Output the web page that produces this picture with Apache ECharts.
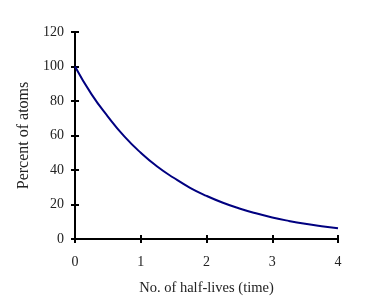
<!DOCTYPE html>
<html><head><meta charset="utf-8">
<script src="https://cdn.jsdelivr.net/npm/echarts@6/dist/echarts.min.js"></script>
<style>html,body{margin:0;padding:0;background:#fff}#c{width:381px;height:303px}</style>
</head><body><div id="c"></div>
<script>
const halfLives = [0,0.25,0.5,0.75,1,1.25,1.5,1.75,2,2.25,2.5,2.75,3,3.25,3.5,3.75,4];
const percentAtoms = [100,84,71,59.5,50,42,35.5,29.7,25,21,17.7,14.9,12.5,10.5,8.8,7.4,6.2];
const xTitle = 'No. of half-lives (time)';
const yTitle = 'Percent of atoms';

const font = '"Liberation Serif","Times New Roman",serif';
const chart = echarts.init(document.getElementById('c'), null, {renderer:'canvas'});
const axisLine = {show:true, onZero:false, lineStyle:{color:'#000', width:2}};
const lbl = {color:'#222', fontFamily:font, fontSize:14};
const baseX = {type:'value', min:0, max:4, interval:1, axisLine, splitLine:{show:false}};
const baseY = {type:'value', min:0, max:120, interval:20, axisLine, splitLine:{show:false}};
chart.setOption({
  animation:false,
  grid:{left:75, right:43, top:32, bottom:64, containLabel:false},
  xAxis:[
    Object.assign({}, baseX, {position:'bottom', axisTick:{show:true, inside:false, length:4, lineStyle:{color:'#000', width:2}},
      axisLabel:Object.assign({}, lbl, {margin:16}),
      name:xTitle, nameLocation:'middle', nameGap:42, nameTextStyle:{color:'#222', fontFamily:font, fontSize:14.5}}),
    Object.assign({}, baseX, {position:'bottom', axisTick:{show:true, inside:true, length:4, lineStyle:{color:'#000', width:2}}, axisLabel:{show:false}})
  ],
  yAxis:[
    Object.assign({}, baseY, {position:'left', axisTick:{show:true, inside:false, length:4, lineStyle:{color:'#000', width:2}},
      axisLabel:Object.assign({}, lbl, {margin:11}),
      name:yTitle, nameLocation:'middle', nameGap:39, nameRotate:90, nameTextStyle:{color:'#222', fontFamily:font, fontSize:16}}),
    Object.assign({}, baseY, {position:'left', axisTick:{show:true, inside:true, length:4, lineStyle:{color:'#000', width:2}}, axisLabel:{show:false}})
  ],
  series:[{
    type:'line', smooth:true, showSymbol:false, xAxisIndex:0, yAxisIndex:0,
    lineStyle:{color:'#000080', width:2},
    data: halfLives.map((x,i)=>[x, percentAtoms[i]])
  }]
});
</script></body></html>
